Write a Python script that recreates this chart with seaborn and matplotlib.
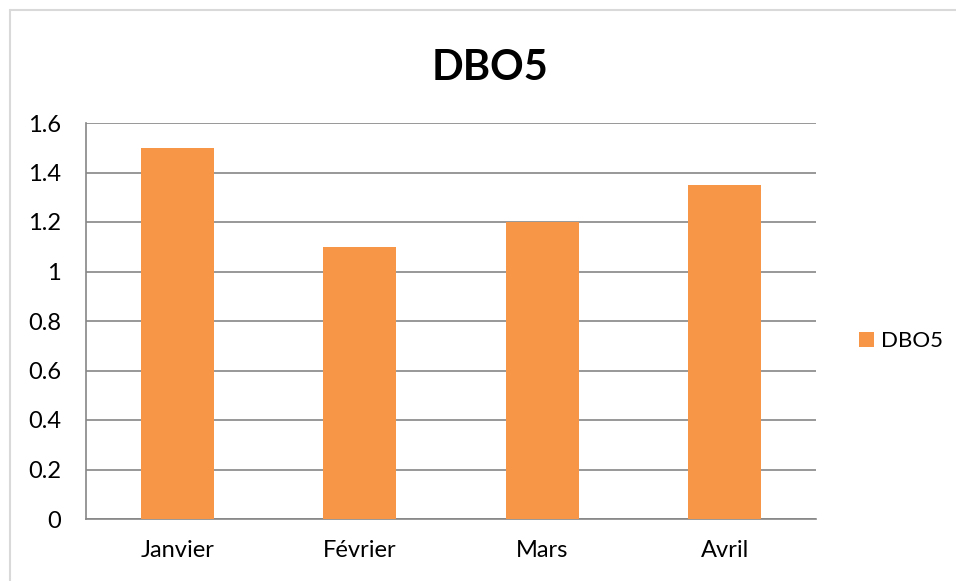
import matplotlib
matplotlib.use("Agg")
import matplotlib.pyplot as plt
import seaborn as sns
import pandas as pd
from matplotlib.lines import Line2D
from matplotlib.patches import Patch

months = ["Janvier", "Février", "Mars", "Avril"]
dbo5 = [1.5, 1.1, 1.2, 1.35]
series_name = "DBO5"
title = "DBO5"
yticks = [0, 0.2, 0.4, 0.6, 0.8, 1, 1.2, 1.4, 1.6]
ytick_labels = ["0", "0.2", "0.4", "0.6", "0.8", "1", "1.2", "1.4", "1.6"]

sns.set_style("white")
plt.rcParams['font.family'] = ['Lato', 'DejaVu Sans']

df = pd.DataFrame({"Mois": months, "Valeur": dbo5})

fig = plt.figure(figsize=(9.56, 5.81), dpi=100)
ax = fig.add_axes([86/956, 1-519/581, (816-86)/956, (519-123)/581])

bar_c = "#F79646"
sns.barplot(data=df, x="Mois", y="Valeur", color=bar_c, width=0.4,
            saturation=1, linewidth=0, ax=ax, zorder=3)

grid_c = "#868686"
ax.set_ylim(0, 1.6)
ax.set_xlim(-0.5, len(months) - 0.5)
ax.set_yticks(yticks)
ax.set_yticklabels(ytick_labels, fontsize=17, color="#000000")
ax.yaxis.grid(True, color=grid_c, linewidth=1.2, zorder=0)
ax.set_axisbelow(True)
ax.tick_params(axis='y', length=7, width=1.2, color=grid_c, pad=11)
ax.tick_params(axis='x', which='major', length=0, pad=15, labelsize=17,
               labelcolor="#000000")
ax.set_xticks([i - 0.5 for i in range(len(months) + 1)], minor=True)
ax.tick_params(axis='x', which='minor', length=6, width=1.2, color=grid_c)
ax.set_xlabel("")
ax.set_ylabel("")
for s in ["top", "right"]:
    ax.spines[s].set_visible(False)
for s in ["left", "bottom"]:
    ax.spines[s].set_color(grid_c)
    ax.spines[s].set_linewidth(1.2)

fig.text(490/956, 1-68/581, title, ha="center", va="center",
         fontsize=30, fontweight="bold", color="#000000")

handles = [Patch(facecolor=bar_c, edgecolor="none", label=series_name)]
fig.legend(handles=handles, loc="center left", bbox_to_anchor=(839/956, 1-341/581),
           frameon=False, fontsize=16, handlelength=0.68, handleheight=0.68,
           handletextpad=0.32, labelcolor="#000000")

# outer chart border (top and left visible)
fig.add_artist(Line2D([10/956, 1], [1-10/581, 1-10/581], transform=fig.transFigure,
                      color="#D9D9D9", linewidth=1.5))
fig.add_artist(Line2D([10/956, 10/956], [0, 1-10/581], transform=fig.transFigure,
                      color="#D9D9D9", linewidth=1.5))

fig.savefig("out.png", dpi=100)
